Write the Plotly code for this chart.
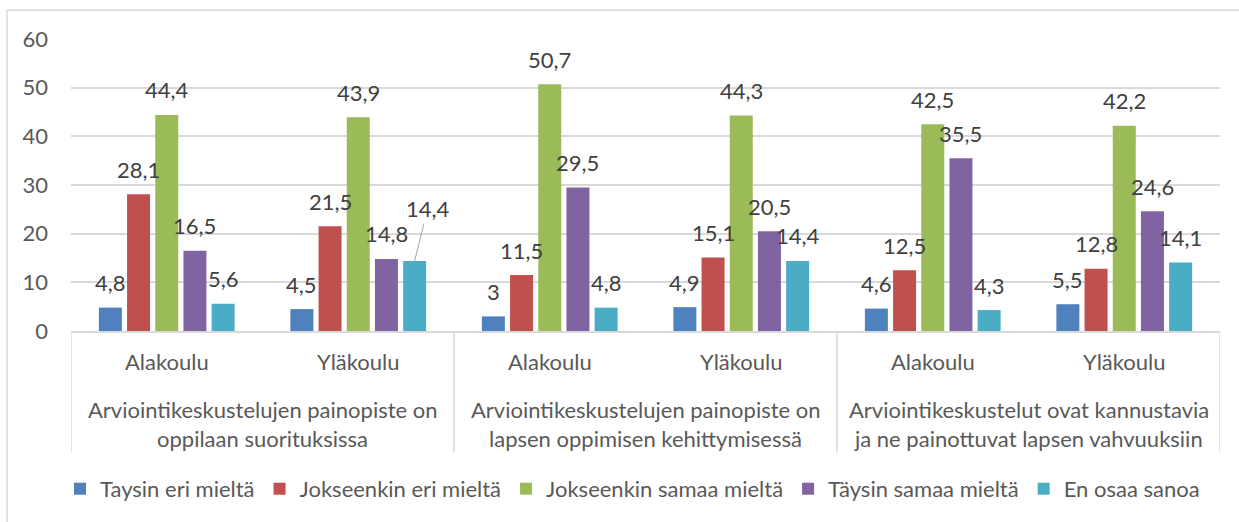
import plotly.graph_objects as go

# ---- data ----
inner_labels = ["Alakoulu", "Yläkoulu", "Alakoulu", "Yläkoulu", "Alakoulu", "Yläkoulu"]
outer_labels_line1 = [
    "Arviointikeskustelujen painopiste on",
    "Arviointikeskustelujen painopiste on",
    "Arviointikeskustelut ovat kannustavia",
]
outer_labels_line2 = [
    "oppilaan suorituksissa",
    "lapsen oppimisen kehittymisessä",
    "ja ne painottuvat lapsen vahvuuksiin",
]
series_names = [
    "Taysin eri mieltä",
    "Jokseenkin eri mieltä",
    "Jokseenkin samaa mieltä",
    "Täysin samaa mieltä",
    "En osaa sanoa",
]
taysin_eri = [4.8, 4.5, 3, 4.9, 4.6, 5.5]
jokseenkin_eri = [28.1, 21.5, 11.5, 15.1, 12.5, 12.8]
jokseenkin_samaa = [44.4, 43.9, 50.7, 44.3, 42.5, 42.2]
taysin_samaa = [16.5, 14.8, 29.5, 20.5, 35.5, 24.6]
en_osaa = [5.6, 14.4, 4.8, 14.4, 4.3, 14.1]
series_values = [taysin_eri, jokseenkin_eri, jokseenkin_samaa, taysin_samaa, en_osaa]
y_ticks = [0, 10, 20, 30, 40, 50, 60]

# ---- style ----
colors = ["#4f81bd", "#c0504d", "#9bbb59", "#8064a2", "#4bacc6"]
FONT = "Lato"
FS = 22
W, H = 1239, 522
ML, MR, MT, MB = 71, 19, 39, 189
PLOT_W = W - ML - MR
PLOT_H = H - MT - MB
BARGAP = 0.264
BARGROUPGAP = 0.184
TXT = "#595959"
LBL = "#404040"
GRID = "#d9d9d9"


def fmt(v):
    return f"{v:g}".replace(".", ",")


def px_to_py(px_below_axis):
    return -px_below_axis / PLOT_H


n_cat = len(inner_labels)
n_ser = len(series_values)
xpos = list(range(n_cat))

fig = go.Figure()
for name, vals, col in zip(series_names, series_values, colors):
    fig.add_trace(go.Bar(
        x=xpos, y=vals, name=name,
        marker=dict(color=col, line=dict(width=0)),
        hoverinfo="y+name",
    ))

annotations = []
# data labels
slot = (1 - BARGAP) / n_ser
for si, vals in enumerate(series_values):
    for ci, v in enumerate(vals):
        xc = ci - (1 - BARGAP) / 2 + (si + 0.5) * slot
        if si == 4 and ci == 1:
            annotations.append(dict(
                x=xc, y=v, xref="x", yref="y", text=fmt(v),
                showarrow=True, arrowhead=0, arrowwidth=1, arrowcolor="#a6a6a6",
                ax=13, ay=-52, standoff=0,
                font=dict(family=FONT, size=FS, color=LBL),
            ))
        else:
            annotations.append(dict(
                x=xc, y=v, xref="x", yref="y", text=fmt(v), showarrow=False,
                yanchor="middle", yshift=25,
                font=dict(family=FONT, size=FS, color=LBL),
            ))

# inner category labels
for ci, lab in enumerate(inner_labels):
    annotations.append(dict(
        x=ci, y=0, xref="x", yref="paper", text=lab, showarrow=False,
        yanchor="middle", yshift=-30,
        font=dict(family=FONT, size=FS, color=TXT),
    ))
# outer category labels
for gi, (l1, l2) in enumerate(zip(outer_labels_line1, outer_labels_line2)):
    xc = 2 * gi + 0.5
    for txt, sh in ((l1, -78), (l2, -107)):
        annotations.append(dict(
            x=xc, y=0, xref="x", yref="paper", text=txt, showarrow=False,
            yanchor="middle", yshift=sh,
            font=dict(family=FONT, size=FS, color=TXT),
        ))

shapes = []
# category dividers
for b in [-0.5, 1.5, 3.5, 5.5]:
    shapes.append(dict(type="line", xref="x", yref="paper", x0=b, x1=b,
                       y0=0, y1=px_to_py(122), line=dict(color=GRID, width=1.5),
                       layer="below"))
# chart border
shapes.append(dict(type="rect", xref="paper", yref="paper",
                   x0=(7 - ML) / PLOT_W, x1=(W + 5 - ML) / PLOT_W,
                   y0=px_to_py(H + 5 - (MT + PLOT_H)), y1=1 + (MT - 10) / PLOT_H,
                   line=dict(color=GRID, width=1.5), fillcolor="rgba(0,0,0,0)",
                   layer="below"))

fig.update_layout(
    width=W, height=H,
    margin=dict(l=ML, r=MR, t=MT, b=MB, pad=0),
    paper_bgcolor="white", plot_bgcolor="white",
    barmode="group", bargap=BARGAP, bargroupgap=BARGROUPGAP,
    font=dict(family=FONT, size=FS, color=TXT),
    xaxis=dict(range=[-0.5, n_cat - 0.5], showticklabels=False, showgrid=False,
               zeroline=False, showline=True, linecolor=GRID, linewidth=1.5,
               fixedrange=True),
    yaxis=dict(range=[0, 60], tickvals=y_ticks, showgrid=True, gridcolor=GRID,
               gridwidth=1.5, zeroline=False, showline=False, ticks="",
               ticklabelstandoff=22, tickfont=dict(family=FONT, size=FS, color=TXT),
               fixedrange=True),
    legend=dict(orientation="h", x=(632.5 - ML) / PLOT_W, xanchor="center",
                y=px_to_py(159), yanchor="middle",
                font=dict(family=FONT, size=FS, color=TXT),
                itemwidth=30, tracegroupgap=0, bgcolor="rgba(0,0,0,0)"),
    annotations=annotations,
    shapes=shapes,
    showlegend=True,
)

fig.write_html("out.html", config={"displayModeBar": False},
               post_script="document.body.style.margin='0px';")
